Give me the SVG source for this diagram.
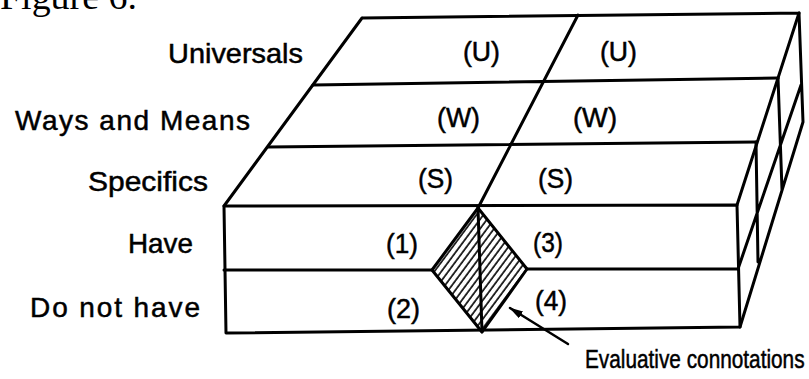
<svg xmlns="http://www.w3.org/2000/svg" width="809" height="379" viewBox="0 0 809 379">
<style>
.ln{fill:none;stroke:#000;stroke-width:3;stroke-linecap:round;stroke-linejoin:round}
.th{fill:none;stroke:#000;stroke-width:2.5;stroke-linecap:round}
.lb{font-family:"Liberation Sans",Arial,sans-serif;font-size:28px;fill:#000;stroke:#000;stroke-width:0.5}
.ev{font-size:26px}
.cap{font-family:"Liberation Serif","Times New Roman",serif;font-size:36px;fill:#000}
</style>
<defs>
<pattern id="hatch" patternUnits="userSpaceOnUse" width="5.6" height="20" patternTransform="rotate(36.6)">
<line x1="1" y1="-2" x2="1" y2="22" stroke="#000" stroke-width="1.6"/>
</pattern>
<marker id="ah" viewBox="0 0 14 8" refX="13" refY="4" markerWidth="14" markerHeight="8" markerUnits="userSpaceOnUse" orient="auto">
<path d="M0,0 L14,4 L0,8 Z" fill="#000"/>
</marker>
</defs>
<rect width="809" height="379" fill="#fff"/>
<text class="cap" x="0" y="9" textLength="137" lengthAdjust="spacingAndGlyphs">Figure 6.</text>

<g id="block">
<g id="top-face">
<path class="ln" d="M362,18 L799,13 M362,18 L224,206 M799,13 L737,205"/>
<path class="ln" d="M313,85 L778,78 M268,147 L756,142 M578,15 L478,208"/>
</g>
<g id="front-face">
<path class="ln" d="M224,206 L737,205 L740,327 L226,333 Z"/>
<path class="ln" d="M224,270 L432,270 M527,269 L738,269"/>
</g>
<g id="evaluative-diamond">
<polygon points="478,208 527,269 482,332 432,270" fill="url(#hatch)" stroke="#000" stroke-width="3" stroke-linejoin="round"/>
<path class="ln" d="M478,208 L482,332"/>
</g>
<g id="side-face">
<path class="ln" d="M799,13 L803,122 L740,327 M801,85 L738,269 M778,78 L782,190 M756,142 L758,262"/>
</g>
</g>

<g id="labels">
<text class="lb" x="168" y="63" textLength="135" lengthAdjust="spacingAndGlyphs">Universals</text>
<text class="lb" x="15" y="130" textLength="235" lengthAdjust="spacing">Ways and Means</text>
<text class="lb" x="88" y="191" textLength="120" lengthAdjust="spacingAndGlyphs">Specifics</text>
<text class="lb" x="128" y="253" textLength="65" lengthAdjust="spacingAndGlyphs">Have</text>
<text class="lb" x="30" y="317" textLength="170" lengthAdjust="spacing">Do not have</text>
<text class="lb" x="463" y="61" textLength="37" lengthAdjust="spacingAndGlyphs">(U)</text>
<text class="lb" x="600" y="61" textLength="37" lengthAdjust="spacingAndGlyphs">(U)</text>
<text class="lb" x="437" y="127" textLength="43" lengthAdjust="spacingAndGlyphs">(W)</text>
<text class="lb" x="573" y="127" textLength="44" lengthAdjust="spacingAndGlyphs">(W)</text>
<text class="lb" x="418" y="188" textLength="35" lengthAdjust="spacingAndGlyphs">(S)</text>
<text class="lb" x="538" y="188" textLength="35" lengthAdjust="spacingAndGlyphs">(S)</text>
<text class="lb" x="386" y="253" textLength="32" lengthAdjust="spacingAndGlyphs">(1)</text>
<text class="lb" x="533" y="252" textLength="30" lengthAdjust="spacingAndGlyphs">(3)</text>
<text class="lb" x="387" y="318" textLength="33" lengthAdjust="spacingAndGlyphs">(2)</text>
<text class="lb" x="535" y="310" textLength="32" lengthAdjust="spacingAndGlyphs">(4)</text>
<text class="lb ev" transform="translate(585,368) scale(0.8,1)" x="0" y="0">Evaluative connotations</text>
</g>

<g id="connectors">
<line class="th" x1="568" y1="344" x2="510" y2="308" marker-end="url(#ah)"/>
</g>
</svg>
